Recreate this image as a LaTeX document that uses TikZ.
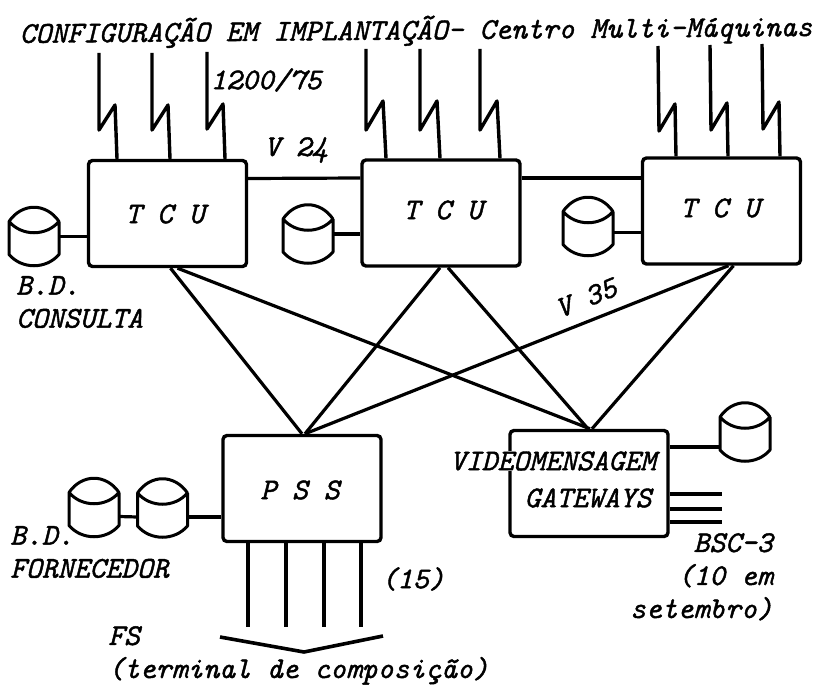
\documentclass[tikz,border=0pt]{standalone}
\usepackage{fontspec}
\setmonofont[FakeBold=1.4]{Latin Modern Mono}
\begin{document}
	\begin{tikzpicture}
		[x=1pt,y=-1pt,
		box/.style={draw,line width=3.4pt,rounded corners=4pt,minimum width=158pt,minimum height=106pt},
		disco/.style={inner sep=0pt,outer sep=0pt,minimum width=50pt,minimum height=59pt},
		fio/.style={line width=3.2pt},
		radio/.style={line width=3.4pt,line join=round},
		txt/.style={font=\fontsize{30.2}{33}\selectfont\ttfamily\itshape,inner sep=0pt,align=left}
	]
		\useasboundingbox (0,0) rectangle (819,685);
		\node[box] (tcua) at (167.5,213.5) {};
		\node[box] (tcub) at (441,213) {};
		\node[box] (tcuc) at (721.5,211) {};
		\node[box] (pss) at (302,488.5) {};
		\node[box] (video) at (589,483.5) {};
		\foreach \n/\x/\y in {dba/34/236.5,dbb/308/234,dbc/588/226.5,dbd/94/507.5,dbe/162.5/508,dbf/745/432}{
			\node[disco] (\n) at (\x,\y) {};
			\draw[radio,line width=3pt,shift={(\n.center)}] (-25,-15) .. controls (-12,-34) and (12,-34) .. (25,-15)
				.. controls (12,0) and (-12,0) .. (-25,-15) -- (-25,18)
				.. controls (-12,33) and (12,33) .. (25,18) -- (25,-15);
		}
		\node[txt] (titulo) at (416,31) [rotate=0.5] {CONFIGURAÇÃO EM IMPLANTAÇÃO- Centro Multi-Máquinas};
		\node[txt] (velocidade) at (266,80) {1200/75};
		\node[txt] (vvinte) at (296,150) {V 24};
		\node[txt] (vtrinta) at (586,298) [rotate=22] {V 35};
		\node[txt] (nomea) at (165,214) {T C U};
		\node[txt] (nomeb) at (443,210) {T C U};
		\node[txt] (nomec) at (720,208) {T C U};
		\node[txt] (nomed) at (300,490) {P S S};
		\node[txt,fill=white] (nomee) at (553,461) {VIDEOMENSAGEM};
		\node[txt] (nomef) at (588,498) {GATEWAYS};
		\node[txt,anchor=north west] (consulta) at (16,276) {B.D.\\CONSULTA};
		\node[txt,anchor=north west] (fornecedor) at (10,526) {B.D.\\FORNECEDOR};
		\node[txt] (quinze) at (413,579) {(15)};
		\node[txt,anchor=north west] (fs) at (108,626) {FS\\(terminal de composição)};
		\node[txt,anchor=north east,align=right] (bsc) at (773,533) {BSC-3~\\(10 em\\setembro)};

		\foreach \i/\x/\y in {1/99/53,2/152/53,3/207/52}{
			\coordinate (la\i) at (\x,\y);
			\draw[radio] (la\i) -- ++(0,77) -- ++(16,-25) -- ([xshift=18pt]la\i |- tcua.north);
		}
		\foreach \i/\x/\y in {1/366/49,2/420/49,3/480/49}{
			\coordinate (lb\i) at (\x,\y);
			\draw[radio] (lb\i) -- ++(0,81) -- ++(17,-29) -- ([xshift=20pt]lb\i |- tcub.north);
		}
		\foreach \i/\x/\y in {1/658/46,2/710/45,3/762/44}{
			\coordinate (lc\i) at (\x,\y);
			\draw[radio] (lc\i) -- ++(1,85) -- ++(16,-27) -- ([xshift=18pt]lc\i |- tcuc.north);
		}

		\draw[fio] ([yshift=35pt]tcua.east) -- ([yshift=35pt]tcub.west);
		\draw[fio] ([yshift=35pt]tcub.east) -- ([yshift=33pt]tcuc.west);
		\draw[fio] (dba.east) -- (tcua.west |- dba.east);
		\draw[fio] (dbb.east) -- (tcub.west |- dbb.east);
		\draw[fio] ([yshift=-6pt]dbc.east) -- ([yshift=-6pt]tcuc.west |- dbc.east);
		\draw[fio] ([yshift=-9pt]dbd.east) -- ([yshift=-9pt]dbe.west);
		\draw[fio] ([yshift=-9pt]dbe.east) -- ([yshift=-9pt]pss.west |- dbe.east);
		\draw[fio] ([yshift=-15pt]video.east |- dbf.west) -- ([yshift=-15pt]dbf.west);

		\draw[fio] ([xshift=3pt]tcua.south) -- ([xshift=0pt]pss.north);
		\draw[fio] ([xshift=10pt]tcua.south) -- ([xshift=1pt]video.north);
		\draw[fio] ([xshift=-1pt]tcub.south) -- ([xshift=3pt]pss.north);
		\draw[fio] ([xshift=7pt]tcub.south) -- ([xshift=-1pt]video.north);
		\draw[fio] ([xshift=7pt]tcuc.south) -- ([xshift=3pt]pss.north);
		\draw[fio] ([xshift=12pt]tcuc.south) -- ([xshift=3pt]video.north);

		\foreach \i/\x in {1/248,2/286,3/324,4/361}{
			\coordinate (fs\i) at (\x,627);
			\draw[fio] (pss.south -| fs\i) -- (fs\i);
		}
		\coordinate (fsa) at (220,637);
		\coordinate (fsb) at (304,652);
		\coordinate (fsc) at (383,636);
		\draw[fio,line width=3.6pt,line join=round] (fsa) -- (fsb) -- (fsc);

		\foreach \i/\y in {1/494,2/509,3/522}{
			\coordinate (bs\i) at (722,\y);
			\draw[fio] (video.east |- bs\i) -- (bs\i);
		}
	\end{tikzpicture}
\end{document}
